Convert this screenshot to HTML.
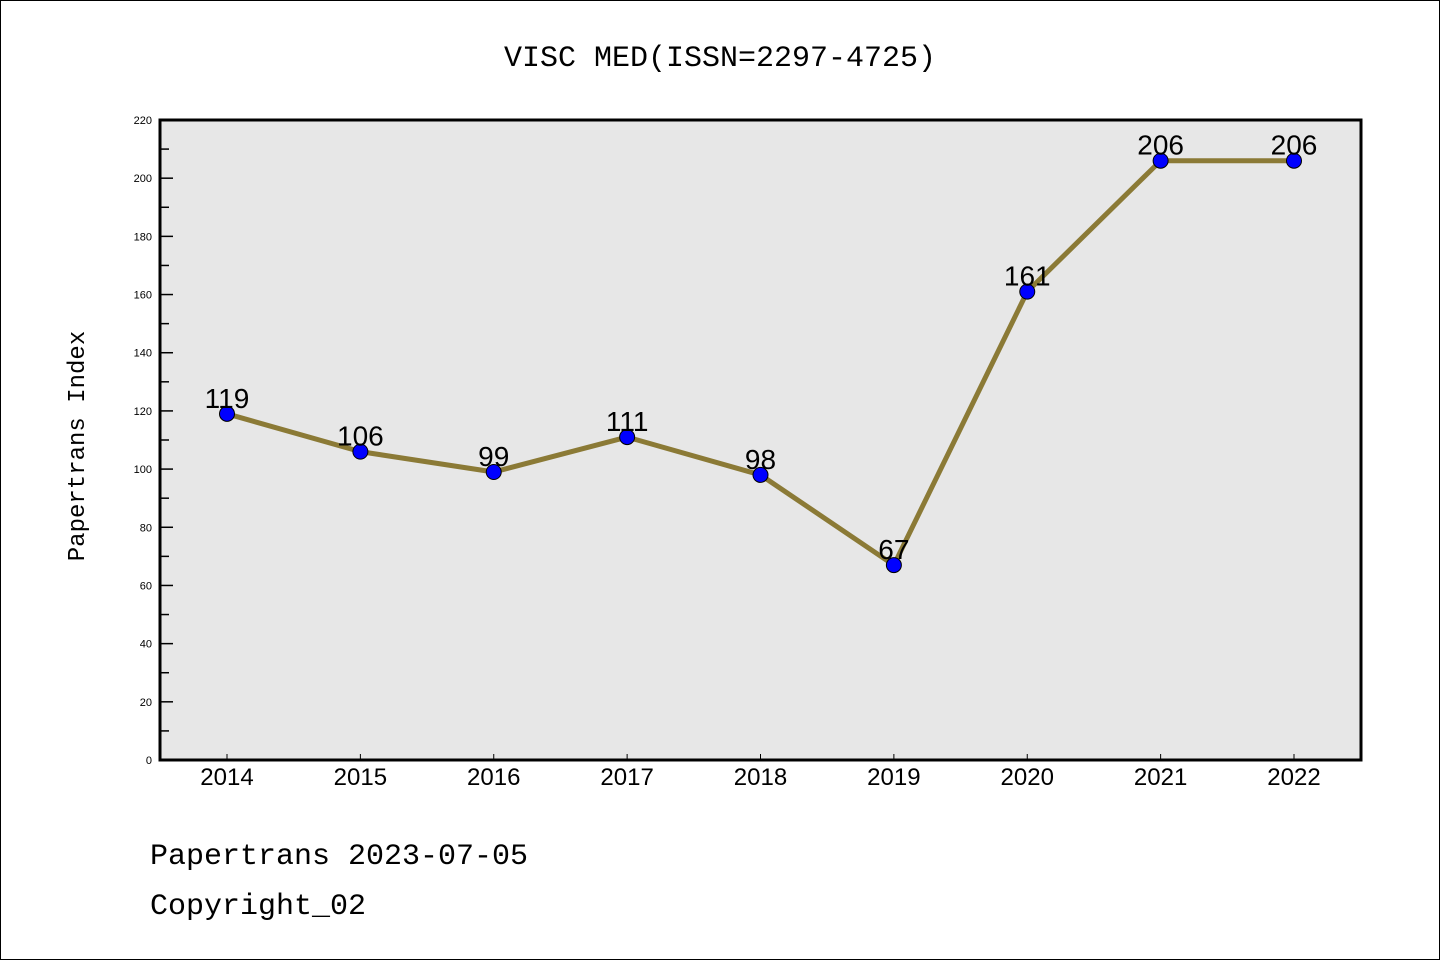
<!DOCTYPE html>
<html><head><meta charset="utf-8"><style>
body{margin:0;background:#fff}
svg{display:block}
text{font-family:"Liberation Mono","DejaVu Sans Mono",monospace}
text.sans{font-family:"Liberation Sans","DejaVu Sans",sans-serif}
</style></head><body>
<svg id="chart" width="1440" height="960" xmlns="http://www.w3.org/2000/svg">
<rect x="0.5" y="0.5" width="1439" height="959" fill="#fff" stroke="#000"/>
<text x="720" y="66" text-anchor="middle" font-size="30">VISC MED(ISSN=2297-4725)</text>
<rect x="160" y="120" width="1201" height="640" fill="#e7e7e7"/>
<g id="axes"></g>
<g id="series"></g>
<rect x="160" y="120" width="1201" height="640" fill="none" stroke="#000" stroke-width="3"/>
<text transform="translate(84,446) rotate(-90)" text-anchor="middle" font-size="24">Papertrans Index</text>
<text x="150" y="864" font-size="30">Papertrans 2023-07-05</text>
<text x="150" y="914" font-size="30">Copyright_02</text>
</svg>
<script>
const categories=["2014","2015","2016","2017","2018","2019","2020","2021","2022"];
const values=[119,106,99,111,98,67,161,206,206];
const yTicks=[0,20,40,60,80,100,120,140,160,180,200,220];
const NS="http://www.w3.org/2000/svg";
const x0=160,x1=1361,y0=760,y1=120,yMax=220;
function xs(i){return 227+i*(1294-227)/(categories.length-1);}
function ys(v){return y0-(v/yMax)*(y0-y1);}
function mk(tag,attrs,parent){const e=document.createElementNS(NS,tag);for(const k in attrs)e.setAttribute(k,attrs[k]);parent.appendChild(e);return e;}
const axes=document.getElementById('axes'),ser=document.getElementById('series');
yTicks.forEach(v=>{
  const y=ys(v);
  const t=mk('line',{x1:x0,x2:x0+13,y1:y,y2:y,stroke:'#000','stroke-width':1.5},axes);
  
  
  const l=mk('text',{x:x0-8,y:y+4,'text-anchor':'end','font-size':11,class:'sans'},axes);
  l.textContent=v;
  
  
  if(v<yMax){const ym=ys(v+10);
    const m=mk('line',{x1:x0,x2:x0+9,y1:ym,y2:ym,stroke:'#000','stroke-width':1.5},axes);
    
    }
});
categories.forEach((c,i)=>{
  const x=xs(i);
  const t=mk('line',{x1:x,x2:x,y1:y0,y2:y0-6,stroke:'#000','stroke-width':1},axes);
  
  
  const l=mk('text',{x:x,y:y0+25,'text-anchor':'middle','font-size':24,class:'sans'},axes);
  l.textContent=c;
  
  
});
const pl=mk('polyline',{points:values.map((v,i)=>xs(i)+','+ys(v)).join(' '),fill:'none',stroke:'#8b7a36','stroke-width':5,'stroke-linejoin':'round'},ser);


values.forEach((v,i)=>{
  const c=mk('circle',{cx:xs(i),cy:ys(v),r:7.5,fill:'#0000ff',stroke:'#000','stroke-width':1},ser);
  
  
  const l=mk('text',{x:xs(i),y:ys(v)-6,'text-anchor':'middle','font-size':28,class:'sans'},ser);
  l.textContent=v;
  
  
});
</script>
</body></html>
